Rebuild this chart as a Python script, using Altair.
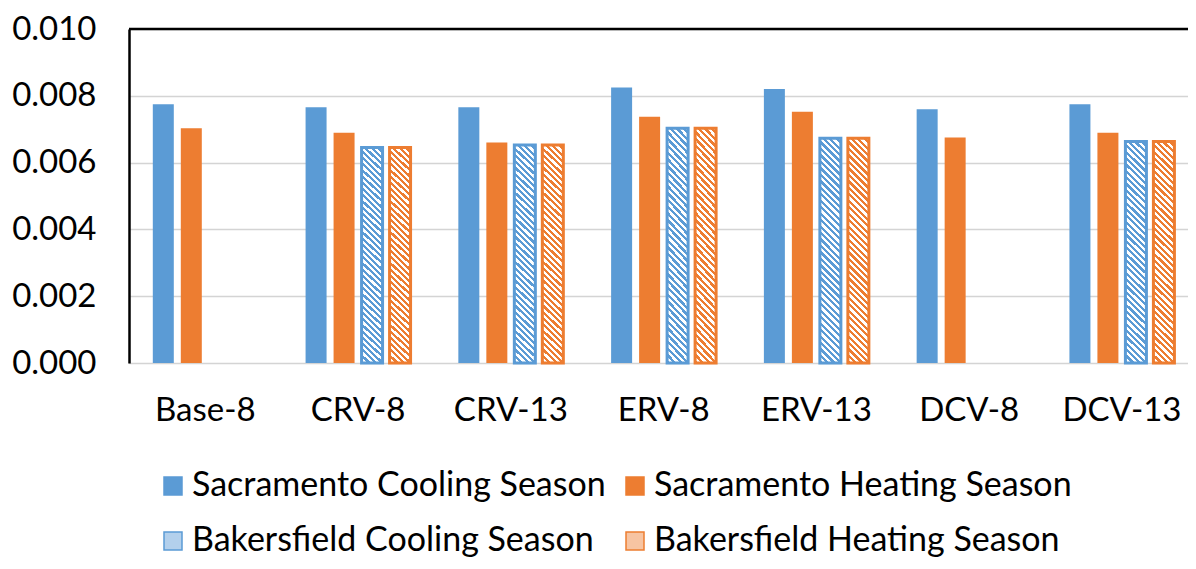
import altair as alt
import pandas as pd

groups = ["Base-8", "CRV-8", "CRV-13", "ERV-8", "ERV-13", "DCV-8", "DCV-13"]
series = ["Sacramento Cooling Season", "Sacramento Heating Season",
          "Bakersfield Cooling Season", "Bakersfield Heating Season"]
sac_cool = [0.00775, 0.00766, 0.00766, 0.00825, 0.00820, 0.00760, 0.00775]
sac_heat = [0.00703, 0.00689, 0.00660, 0.00737, 0.00752, 0.00675, 0.00689]
bak_cool = [None, 0.00645, 0.00653, 0.00703, 0.00673, None, 0.00663]
bak_heat = [None, 0.00645, 0.00653, 0.00703, 0.00673, None, 0.00663]

BLUE = "#5B9BD5"
ORANGE = "#ED7D31"
fill_colors = [BLUE, ORANGE, "#b3d0ec", "#f7c4a2"]
stroke_colors = [BLUE, ORANGE, BLUE, ORANGE]

rows = []
for vals, s in zip([sac_cool, sac_heat, bak_cool, bak_heat], series):
    for g, v in zip(groups, vals):
        if v is not None:
            rows.append({"group": g, "series": s, "value": v})
df = pd.DataFrame(rows)

FONT = "Lato"


def hatch(color, n=38, frac=0.5, k=-10.7):
    s = (1 - k) / (1 + k * k)
    stops = []
    for i in range(n):
        a = i / n
        b = (i + frac) / n
        c = (i + 1) / n
        stops += [{"offset": a, "color": color}, {"offset": b, "color": color},
                  {"offset": b, "color": "#ffffff"}, {"offset": c, "color": "#ffffff"}]
    return {"gradient": "linear", "x1": 0, "y1": 1, "x2": s, "y2": 1 + s * k, "stops": stops}


x_enc = alt.X("group:N", sort=groups, title=None,
              scale=alt.Scale(domain=groups, paddingInner=0.267, paddingOuter=0.0995, align=0.668),
              axis=alt.Axis(labelFont=FONT, labelFontSize=33, labelColor="#000000",
                            labelAngle=0, ticks=False, domain=False, labelPadding=31))
y_enc = alt.Y("value:Q", title=None,
              scale=alt.Scale(domain=[0, 0.010], nice=False, zero=True),
              axis=alt.Axis(values=[0, 0.002, 0.004, 0.006, 0.008, 0.010], format=".3f",
                            labelFont=FONT, labelFontSize=33, labelColor="#000000",
                            ticks=False, domain=True, domainColor="#000000", domainWidth=2.5,
                            gridColor="#d4d4d4", gridWidth=1.5, labelPadding=33))
xoff = alt.XOffset("series:N", sort=series,
                   scale=alt.Scale(domain=series, paddingInner=0.25, paddingOuter=0.125))
fill_enc = alt.Fill("series:N", sort=series, title=None,
                    scale=alt.Scale(domain=series, range=fill_colors),
                    legend=alt.Legend(orient="none", legendX=27, legendY=440, columns=2,
                                      symbolType="square", symbolSize=324,
                                      symbolStrokeWidth=1.5, labelFont=FONT,
                                      labelFontSize=34, labelColor="#000000",
                                      labelLimit=700, rowPadding=21, columnPadding=12,
                                      labelOffset=2, direction="horizontal"))
stroke_enc = alt.Stroke("series:N", sort=series, title=None,
                        scale=alt.Scale(domain=series, range=stroke_colors))

base = alt.Chart(df)

solid = base.transform_filter(
    alt.FieldOneOfPredicate(field="series", oneOf=series[:2])
).mark_bar(strokeWidth=0).encode(x=x_enc, y=y_enc, xOffset=xoff, fill=fill_enc, stroke=stroke_enc)

hb = base.transform_filter(alt.datum.series == series[2]).mark_bar(
    fill=hatch(BLUE), strokeWidth=3).encode(x=x_enc, y=y_enc, xOffset=xoff, stroke=stroke_enc)
ho = base.transform_filter(alt.datum.series == series[3]).mark_bar(
    fill=hatch(ORANGE), strokeWidth=3).encode(x=x_enc, y=y_enc, xOffset=xoff, stroke=stroke_enc)

top = alt.Chart(pd.DataFrame({"v": [0.010]})).mark_rule(color="#000000", strokeWidth=2.5).encode(
    y=alt.Y("v:Q", scale=alt.Scale(domain=[0, 0.010], nice=False)))

chart = alt.layer(solid, hb, ho, top).properties(
    width=1059, height=334,
    autosize=alt.AutoSizeParams(type="none"),
    padding={"left": 121, "top": 21, "right": 0, "bottom": 198},
).configure_view(stroke=None).configure(background="#ffffff")

chart.save("out.html", embed_options={"renderer": "svg", "actions": False})
